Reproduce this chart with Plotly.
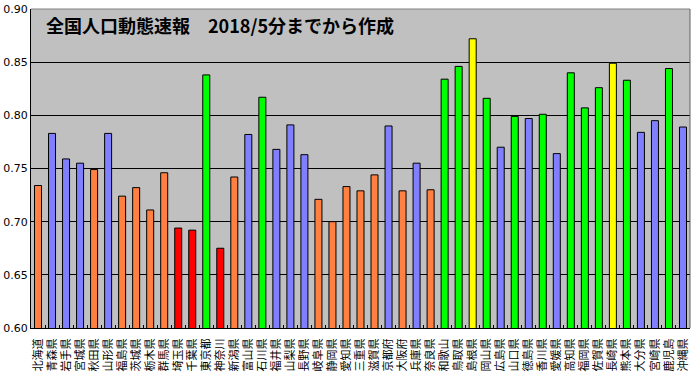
import plotly.graph_objects as go

prefectures = ["北海道", "青森県", "岩手県", "宮城県", "秋田県", "山形県", "福島県", "茨城県", "栃木県", "群馬県",
               "埼玉県", "千葉県", "東京都", "神奈川", "新潟県", "富山県", "石川県", "福井県", "山梨県", "長野県",
               "岐阜県", "静岡県", "愛知県", "三重県", "滋賀県", "京都府", "大阪府", "兵庫県", "奈良県", "和歌山",
               "鳥取県", "島根県", "岡山県", "広島県", "山口県", "徳島県", "香川県", "愛媛県", "高知県", "福岡県",
               "佐賀県", "長崎県", "熊本県", "大分県", "宮崎県", "鹿児島", "沖縄県"]

values = [0.734, 0.783, 0.759, 0.755, 0.749, 0.783, 0.724, 0.732, 0.711, 0.746,
          0.694, 0.692, 0.838, 0.675, 0.742, 0.782, 0.817, 0.768, 0.791, 0.763,
          0.721, 0.700, 0.733, 0.729, 0.744, 0.790, 0.729, 0.755, 0.730, 0.834,
          0.846, 0.872, 0.816, 0.770, 0.799, 0.797, 0.801, 0.764, 0.840, 0.807,
          0.826, 0.849, 0.833, 0.784, 0.795, 0.844, 0.789]

# group code of each prefecture (drives the bar colour)
groups = ["O", "B", "B", "B", "O", "B", "O", "O", "O", "O",
          "R", "R", "G", "R", "O", "B", "G", "B", "B", "B",
          "O", "O", "O", "O", "O", "B", "O", "B", "O", "G",
          "G", "Y", "G", "B", "G", "B", "G", "B", "G", "G",
          "G", "Y", "G", "B", "B", "G", "B"]

y_ticks = [0.60, 0.65, 0.70, 0.75, 0.80, 0.85, 0.90]
title_text = "全国人口動態速報\u30002018/5分までから作成"

group_colors = {"O": "#FF8040", "B": "#8080FF", "G": "#00FF00", "R": "#FF0000", "Y": "#FFFF00"}
bar_colors = [group_colors[g] for g in groups]

fig = go.Figure(go.Bar(
    x=prefectures, y=values,
    marker=dict(color=bar_colors, line=dict(color="black", width=1)),
))

fig.update_layout(
    width=694, height=373,
    margin=dict(l=31, r=4, t=9, b=45),
    paper_bgcolor="white", plot_bgcolor="#C0C0C0",
    bargap=0.5, showlegend=False,
    font=dict(family="Noto Sans CJK JP", color="black"),
)
fig.update_yaxes(
    range=[0.60, 0.90], tickvals=y_ticks, tickformat=".2f",
    showgrid=True, gridcolor="black", gridwidth=1,
    showline=True, linecolor="black", linewidth=1,
    ticks="", tickfont=dict(family="DejaVu Sans", size=11, color="black"),
    zeroline=False, automargin=False,
)
fig.update_xaxes(
    range=[-0.5, len(prefectures) - 0.5],
    tickangle=-90, tickfont=dict(family="Noto Sans CJK JP", size=11, color="black"),
    showline=True, linecolor="black", linewidth=1,
    ticks="inside", ticklen=3, tickcolor="black", tickson="boundaries",
    ticklabelstandoff=5,
    showgrid=False, automargin=False,
)
# top and right frame lines
fig.add_shape(type="line", xref="x domain", yref="y domain", x0=0, x1=1, y0=1, y1=1,
              line=dict(color="#808080", width=1))
fig.add_shape(type="line", xref="x domain", yref="y domain", x0=1, x1=1, y0=0, y1=1,
              line=dict(color="#606060", width=1))

fig.add_annotation(
    text="<b>" + title_text + "</b>", xref="x domain", yref="y domain",
    x=0.020, y=0.95, xanchor="left", yanchor="middle", showarrow=False,
    font=dict(family="Noto Sans CJK JP", size=18, color="black"),
)

fig.write_html("out.html", config={"displayModeBar": False})

# remove the browser's default page margin so the figure sits at the window's corner
with open("out.html", encoding="utf-8") as f:
    html = f.read()
html = html.replace("<head>", "<head><style>html,body{margin:0;padding:0;overflow:hidden;}</style>", 1)
with open("out.html", "w", encoding="utf-8") as f:
    f.write(html)
